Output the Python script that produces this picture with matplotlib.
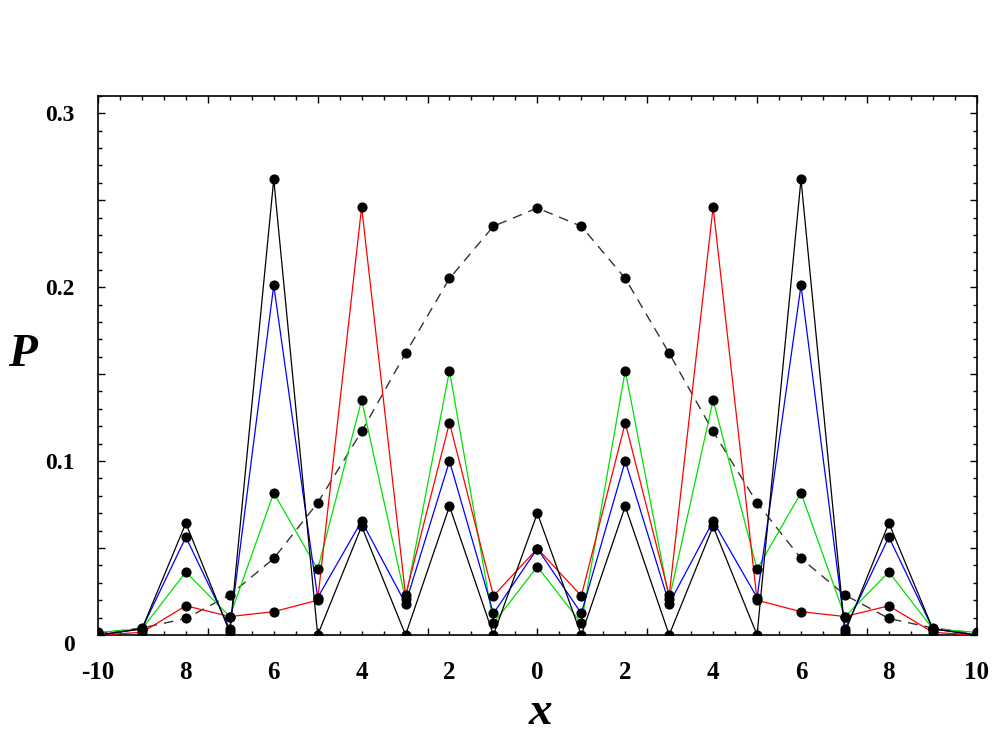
import matplotlib
matplotlib.use("Agg")

import matplotlib.pyplot as plt
import matplotlib.transforms as mtransforms
import numpy as np
from matplotlib.ticker import MultipleLocator, FixedLocator, FixedFormatter

# site positions
x = list(range(-10, 11))

# dashed (classical-looking) envelope
p_dash = [0.001, 0.004, 0.0095, 0.023, 0.044, 0.076, 0.117, 0.162, 0.205, 0.235, 0.2455,
          0.235, 0.205, 0.162, 0.117, 0.076, 0.044, 0.023, 0.0095, 0.004, 0.001]

p_black = [0.0, 0.0035, 0.0643, 0.0015, 0.262, 0.0, 0.0625, 0.0, 0.074, 0.0, 0.070,
           0.0, 0.074, 0.0, 0.0625, 0.0, 0.262, 0.0015, 0.0643, 0.0035, 0.0]

p_blue = [0.0, 0.0035, 0.0563, 0.0035, 0.201, 0.0215, 0.0655, 0.018, 0.100, 0.0124, 0.0497,
          0.0124, 0.100, 0.018, 0.0655, 0.0215, 0.201, 0.0035, 0.0563, 0.0035, 0.0]

p_green = [0.0015, 0.0035, 0.0362, 0.0105, 0.0817, 0.0378, 0.135, 0.0205, 0.152, 0.0067, 0.0393,
           0.0067, 0.152, 0.0205, 0.135, 0.0378, 0.0817, 0.0105, 0.0362, 0.0035, 0.0015]

p_red = [0.0, 0.0015, 0.0168, 0.0106, 0.0134, 0.020, 0.246, 0.0228, 0.122, 0.0225, 0.0497,
         0.0225, 0.122, 0.0228, 0.246, 0.020, 0.0134, 0.0106, 0.0168, 0.0015, 0.0]

xlab_pos = [-10, -8, -6, -4, -2, 0, 2, 4, 6, 8, 10]
xlab_txt = ["-10", "8", "6", "4", "2", "0", "2", "4", "6", "8", "10"]
ylab_pos = [0.0, 0.05, 0.1, 0.15, 0.2, 0.25, 0.3]
ylab_txt = ["0", "", "0.1", "", "0.2", "", "0.3"]

plt.rcParams["font.family"] = ["Liberation Serif", "DejaVu Serif"]
plt.rcParams["font.weight"] = "bold"

fig = plt.figure(figsize=(10.02, 7.52), dpi=100)
ax = fig.add_axes([0.0978, 0.1556, 0.877, 0.717])

ax.plot(x, p_dash, color="#333333", lw=1.0, ls=(0, (7, 5)), zorder=2)
ax.plot(x, p_green, color="#00e000", lw=0.9, zorder=3)
ax.plot(x, p_red, color="#ff0000", lw=0.9, zorder=3)
ax.plot(x, p_blue, color="#0000ff", lw=0.9, zorder=3)
ax.plot(x, p_black, color="black", lw=0.9, zorder=3)

for s in [p_dash, p_green, p_red, p_blue, p_black]:
    ax.plot(x, s, ls="none", marker="o", ms=6.3, color="black", zorder=5)

ax.set_xlim(-10, 10)
ax.set_ylim(0, 0.31)

# ticks: long every 2.5, short every 0.5 along x; long every 0.05, short every 0.01 along y
ax.xaxis.set_major_locator(MultipleLocator(2.5))
ax.xaxis.set_minor_locator(MultipleLocator(0.5))
ax.xaxis.set_major_formatter(FixedFormatter([]))
ax.yaxis.set_major_locator(FixedLocator(ylab_pos))
ax.yaxis.set_major_formatter(FixedFormatter(ylab_txt))
ax.yaxis.set_minor_locator(MultipleLocator(0.01))

ax.tick_params(which="both", direction="in", top=True, right=True, width=1)
ax.tick_params(which="major", length=5)
ax.tick_params(which="minor", length=3)
ax.tick_params(axis="y", which="major", pad=17, labelsize=17)
ax.tick_params(axis="x", labelbottom=False)

# x labels on a separate axis so they sit at even numbers
sx = ax.secondary_xaxis("bottom")
sx.set_xticks(xlab_pos)
sx.set_xticklabels(xlab_txt)
sx.tick_params(length=0, pad=19, labelsize=18)
sx.spines["bottom"].set_visible(False)

for sp in ax.spines.values():
    sp.set_linewidth(1.2)

# the zero label on the y axis sits a bit lower in the original
lbl0 = ax.get_yticklabels()[0]
lbl0.set_transform(lbl0.get_transform() + mtransforms.ScaledTranslation(0, -6 / 72, fig.dpi_scale_trans))

fig.text(0.022, 0.528, "P", fontsize=34, fontstyle="italic", fontweight="bold", ha="center", va="center")
fig.text(0.539, 0.052, "x", fontsize=34, fontstyle="italic", fontweight="bold", ha="center", va="center")

fig.savefig("out.png", dpi=100)
